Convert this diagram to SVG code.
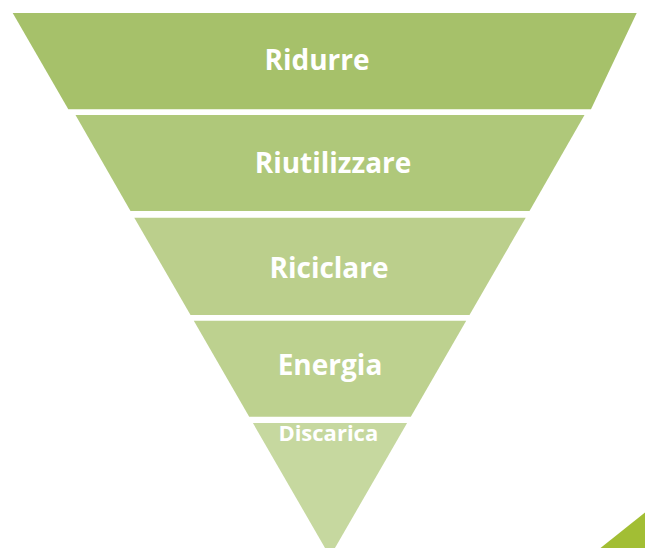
<svg xmlns="http://www.w3.org/2000/svg" width="645" height="548" viewBox="0 0 645 548">
<style>
.lbl{font-family:"Open Sans","Noto Sans","DejaVu Sans",sans-serif;font-weight:bold;fill:#ffffff;text-anchor:middle;font-size:28px}
</style>
<rect width="645" height="548" fill="#ffffff"/>
<g id="ridurre">
<polygon points="12.7,13 636.7,13 591,109.3 68.3,109.3" fill="#A6C16A"/>
<text class="lbl" x="317" y="70">Ridurre</text>
</g>
<g id="riutilizzare">
<polygon points="75.5,115 584.5,115 529.5,211 130.5,211" fill="#AFC87A"/>
<text class="lbl" x="333" y="173.3">Riutilizzare</text>
</g>
<g id="riciclare">
<polygon points="134.3,217.7 525.7,217.7 469.5,315 190.5,315" fill="#BBCF8C"/>
<text class="lbl" x="329" y="278.3">Riciclare</text>
</g>
<g id="energia">
<polygon points="193.8,320.7 466.2,320.7 410.8,416.7 249.2,416.7" fill="#BDD18F"/>
<text class="lbl" x="330" y="375">Energia</text>
</g>
<g id="discarica">
<polygon points="252.9,423 407.1,423 330,556.6" fill="#C6D89F"/>
<text class="lbl" x="328.3" y="441" style="font-size:22px">Discarica</text>
</g>
<polygon points="600.5,548 645,512.5 645,548" fill="#A2BE34"/>
<g id="connectors"></g>
</svg>
